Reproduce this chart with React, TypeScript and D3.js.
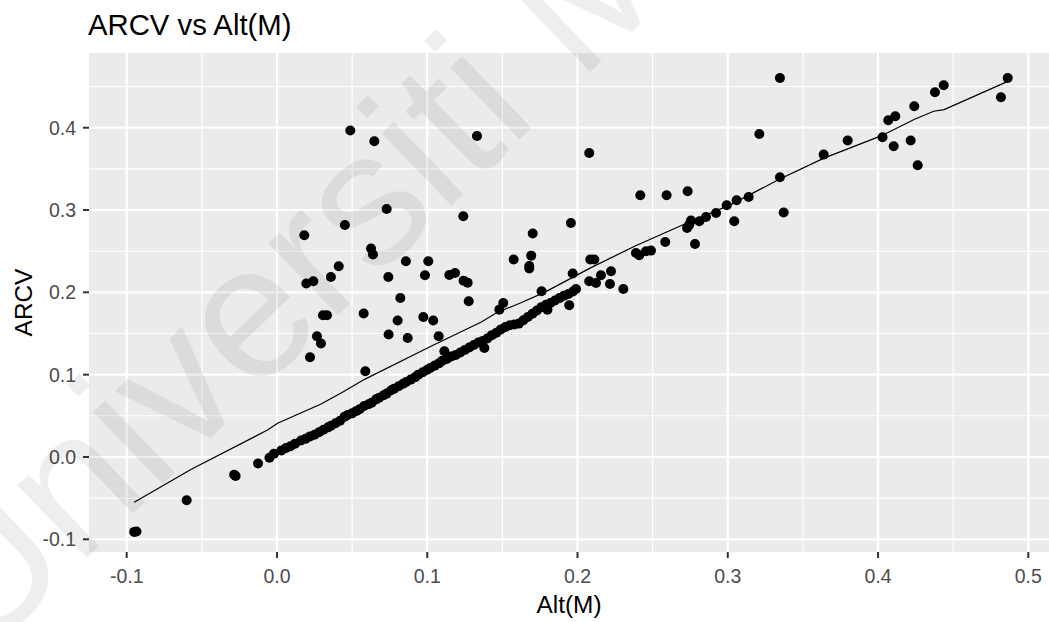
import React from "react";
import * as d3 from "d3";

const xTicks = [-0.1, 0.0, 0.1, 0.2, 0.3, 0.4, 0.5];
const yTicks = [-0.1, 0.0, 0.1, 0.2, 0.3, 0.4];
const xMinor = [-0.05, 0.05, 0.15, 0.25, 0.35, 0.45];
const yMinor = [-0.05, 0.05, 0.15, 0.25, 0.35, 0.45];

// Scattered points above the main band
const scatterX = [0.0182, 0.0195, 0.0242, 0.0359, 0.0411, 0.0306, 0.0333, 0.0266, 0.0293, 0.022, 0.0488, 0.0648, 0.1331, 0.2078, 0.073, 0.0452, 0.124, 0.1956, 0.1702, 0.0626, 0.0639, 0.0858, 0.1007, 0.0741, 0.0985, 0.1147, 0.1185, 0.1242, 0.1269, 0.1575, 0.1692, 0.1679, 0.1679, 0.2085, 0.2112, 0.1968, 0.0821, 0.1276, 0.0577, 0.0803, 0.0974, 0.104, 0.0743, 0.087, 0.1076, 0.0588, 0.1506, 0.148, 0.1761, 0.1114, 0.138, 0.1945, 0.18];
const scatterY = [0.2693, 0.2107, 0.2134, 0.2187, 0.2317, 0.1721, 0.1721, 0.1466, 0.1378, 0.1211, 0.3965, 0.3835, 0.39, 0.3693, 0.3013, 0.2818, 0.2924, 0.2843, 0.2714, 0.2532, 0.2459, 0.2377, 0.2377, 0.2187, 0.2207, 0.2211, 0.2235, 0.2142, 0.2118, 0.2398, 0.2446, 0.232, 0.2289, 0.2398, 0.2398, 0.2228, 0.1932, 0.1891, 0.1742, 0.1657, 0.1701, 0.1657, 0.1487, 0.1446, 0.1466, 0.1041, 0.1871, 0.179, 0.2013, 0.1284, 0.1324, 0.1843, 0.179];

// Lower-left points
const lowX = [-0.095, -0.0935, -0.0601, -0.0285, -0.0275, -0.0126];
const lowY = [-0.091, -0.0905, -0.0526, -0.0215, -0.0232, -0.008];

// Upper-right points
const highX = [0.3347, 0.321, 0.3638, 0.3347, 0.2418, 0.2593, 0.2733, 0.3139, 0.3059, 0.2993, 0.2922, 0.2855, 0.2811, 0.2755, 0.2744, 0.2729, 0.3043, 0.3372, 0.2584, 0.2782, 0.2389, 0.2411, 0.2456, 0.2489, 0.2223, 0.2156, 0.2078, 0.2123, 0.2216, 0.2305, 0.4863, 0.4437, 0.4379, 0.4818, 0.4241, 0.4115, 0.4068, 0.403, 0.3798, 0.4104, 0.4217, 0.4264];
const highY = [0.4604, 0.3924, 0.3673, 0.3398, 0.3179, 0.3179, 0.3228, 0.3158, 0.3118, 0.3058, 0.2964, 0.2916, 0.2863, 0.2872, 0.2823, 0.2782, 0.2863, 0.2969, 0.2612, 0.2588, 0.2478, 0.245, 0.2499, 0.2507, 0.2256, 0.2207, 0.2134, 0.2114, 0.2102, 0.2041, 0.4604, 0.4515, 0.443, 0.437, 0.426, 0.4139, 0.409, 0.3884, 0.3844, 0.3774, 0.3844, 0.3543];

// Main dense band
const bandX = [-0.005, -0.002, 0.003, 0.006, 0.009, 0.012, 0.016, 0.019, 0.022, 0.025, 0.028, 0.031, 0.034, 0.036, 0.039, 0.042, 0.045, 0.047, 0.05, 0.053, 0.055, 0.058, 0.061, 0.063, 0.066, 0.068, 0.071, 0.073, 0.076, 0.078, 0.081, 0.084, 0.086, 0.089, 0.092, 0.094, 0.097, 0.1, 0.102, 0.105, 0.108, 0.11, 0.113, 0.116, 0.119, 0.122, 0.125, 0.128, 0.131, 0.134, 0.137, 0.14, 0.143, 0.146, 0.149, 0.152, 0.155, 0.158, 0.161, 0.164, 0.167, 0.17, 0.173, 0.176, 0.179, 0.182, 0.185, 0.188, 0.191, 0.194, 0.197, 0.199];
const bandY = [-0.001, 0.004, 0.008, 0.011, 0.013, 0.016, 0.02, 0.022, 0.025, 0.027, 0.03, 0.033, 0.036, 0.038, 0.041, 0.044, 0.049, 0.051, 0.053, 0.056, 0.058, 0.062, 0.064, 0.066, 0.07, 0.072, 0.075, 0.077, 0.081, 0.083, 0.086, 0.089, 0.091, 0.094, 0.097, 0.1, 0.103, 0.106, 0.108, 0.111, 0.114, 0.117, 0.119, 0.122, 0.124, 0.127, 0.13, 0.133, 0.136, 0.139, 0.141, 0.144, 0.148, 0.151, 0.155, 0.158, 0.16, 0.161, 0.162, 0.166, 0.17, 0.174, 0.178, 0.182, 0.185, 0.187, 0.19, 0.193, 0.196, 0.198, 0.201, 0.204];

// Fitted line
const fitX = [-0.095, -0.057, -0.006, 0.0004, 0.029, 0.043, 0.058, 0.1025, 0.136, 0.147, 0.162, 0.178, 0.209, 0.238, 0.2755, 0.302, 0.335, 0.364, 0.402, 0.424, 0.437, 0.444, 0.486];
const fitY = [-0.055, -0.015, 0.033, 0.041, 0.064, 0.078, 0.094, 0.1345, 0.164, 0.176, 0.187, 0.2, 0.23, 0.256, 0.2863, 0.3066, 0.338, 0.363, 0.39, 0.41, 0.42, 0.422, 0.456];

const W = 1049;
const H = 622;
const panel = { left: 89, right: 1052, top: 53, bottom: 552 };

export default function App() {
  const x = d3.scaleLinear().domain([-0.1, 0.5]).range([126.7, 1028.3]);
  const y = d3.scaleLinear().domain([-0.1, 0.4]).range([539.3, 127.7]);

  const allX = [...scatterX, ...lowX, ...highX, ...bandX];
  const allY = [...scatterY, ...lowY, ...highY, ...bandY];
  const points = allX.map((v, i) => [v, allY[i]]);

  const fit = fitX.map((v, i) => [v, fitY[i]] as [number, number]);
  const line = d3
    .line<[number, number]>()
    .x((d) => x(d[0]))
    .y((d) => y(d[1]));

  const fmt = (t: number) => d3.format(".1f")(t).replace("\u2212", "-");
  const font = "Arial, 'Liberation Sans', sans-serif";

  return (
    <svg
      width={W}
      height={H}
      style={{ position: "absolute", left: 0, top: 0, display: "block", background: "#fff" }}
      fontFamily={font}
    >
      <rect x={0} y={0} width={W} height={H} fill="#fff" />
      <rect
        x={panel.left}
        y={panel.top}
        width={panel.right - panel.left}
        height={panel.bottom - panel.top}
        fill="#EBEBEB"
      />
      {yMinor.map((t) => (
        <line key={"ym" + t} x1={panel.left} x2={panel.right} y1={y(t)} y2={y(t)} stroke="#fff" strokeWidth={1.1} />
      ))}
      {xMinor.map((t) => (
        <line key={"xm" + t} x1={x(t)} x2={x(t)} y1={panel.top} y2={panel.bottom} stroke="#fff" strokeWidth={1.1} />
      ))}
      {yTicks.map((t) => (
        <line key={"yM" + t} x1={panel.left} x2={panel.right} y1={y(t)} y2={y(t)} stroke="#fff" strokeWidth={2.2} />
      ))}
      {xTicks.map((t) => (
        <line key={"xM" + t} x1={x(t)} x2={x(t)} y1={panel.top} y2={panel.bottom} stroke="#fff" strokeWidth={2.2} />
      ))}

      {points.map((p, i) => (
        <circle key={i} cx={x(p[0])} cy={y(p[1])} r={5} fill="#000" />
      ))}
      <path d={line(fit) || ""} fill="none" stroke="#000" strokeWidth={1.2} />

      {/* axes ticks */}
      {xTicks.map((t) => (
        <g key={"xt" + t}>
          <line x1={x(t)} x2={x(t)} y1={panel.bottom} y2={panel.bottom + 6} stroke="#333" strokeWidth={2} />
          <text x={x(t)} y={583} textAnchor="middle" fontSize={19.5} fill="#4D4D4D">
            {fmt(t)}
          </text>
        </g>
      ))}
      {yTicks.map((t) => (
        <g key={"yt" + t}>
          <line x1={panel.left - 6} x2={panel.left} y1={y(t)} y2={y(t)} stroke="#333" strokeWidth={2} />
          <text x={76} y={y(t)} dy="0.36em" textAnchor="end" fontSize={19.5} fill="#4D4D4D">
            {fmt(t)}
          </text>
        </g>
      ))}

      <text x={(panel.left + 1049) / 2} y={613} textAnchor="middle" fontSize={24.4} fill="#000">
        Alt(M)
      </text>
      <text
        transform={`translate(32, ${(panel.top + panel.bottom) / 2}) rotate(-90)`}
        textAnchor="middle"
        fontSize={24.4}
        fill="#000"
      >
        ARCV
      </text>
      <text x={88} y={35} fontSize={29.3} fill="#000">
        ARCV vs Alt(M)
      </text>

      {/* watermark */}
      <text
        transform="translate(-21, 662) rotate(-44)"
        fontSize={190}
        fill="#000"
        fillOpacity={0.065}
      >
        Universiti Malaya
      </text>
    </svg>
  );
}
